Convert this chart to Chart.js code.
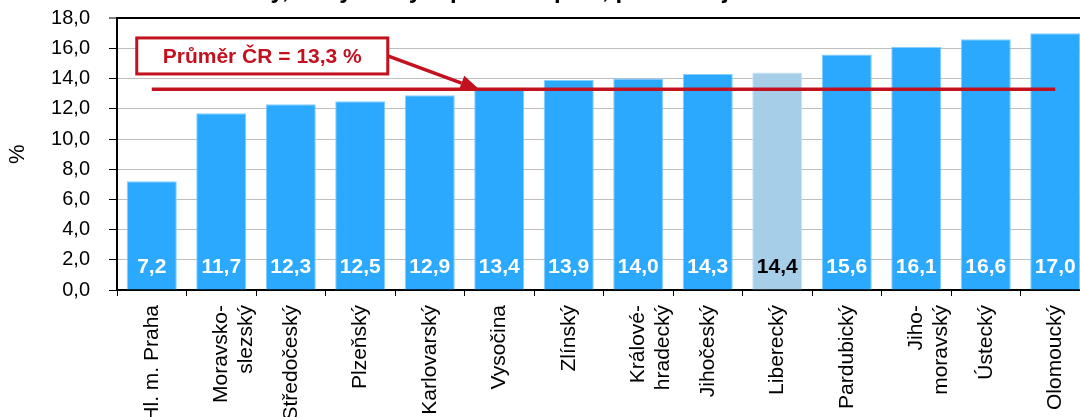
<!DOCTYPE html>
<html>
<head>
<meta charset="utf-8">
<script src="https://cdn.jsdelivr.net/npm/chart.js@4.4.1/dist/chart.umd.min.js"></script>
<style>
  html, body { margin: 0; padding: 0; overflow: hidden; background: #fff; width: 1080px; height: 417px; }
  #wrap { position: absolute; left: 0; top: -23px; width: 1090px; height: 475px; }
</style>
</head>
<body>
<div id="wrap"><canvas id="c"></canvas></div>
<script>
const titleText = 'Osoby, kterým chybí pocit bezpečí, podle krajů v roce 2019';
const categories = ['Hl. m. Praha', ['Moravsko-', 'slezský'], 'Středočeský', 'Plzeňský', 'Karlovarský', 'Vysočina', 'Zlínský', ['Králové-', 'hradecký'], 'Jihočeský', 'Liberecký', 'Pardubický', ['Jiho-', 'moravský'], 'Ústecký', 'Olomoucký'];
const values = [7.2, 11.7, 12.3, 12.5, 12.9, 13.4, 13.9, 14.0, 14.3, 14.4, 15.6, 16.1, 16.6, 17.0];
const highlighted = ['Liberecký'];
const average = 13.3;
const averageLabel = 'Průměr ČR = 13,3 %';
const yTicks = [0, 2, 4, 6, 8, 10, 12, 14, 16, 18];
const yAxisTitle = '%';

const FONT = "'Liberation Sans', Arial, sans-serif";
const BLUE = '#2AA9FE', BLUE_EDGE = '#86CFFF';
const LIGHT = '#A7CEE9', LIGHT_EDGE = '#C8E1F2';
const RED = '#C3121F';
const fmt = v => v.toFixed(1).replace('.', ',');
const isHi = i => highlighted.includes(categories[i]);

const barLabels = {
  id: 'barLabels',
  afterDatasetsDraw(chart) {
    const meta = chart.getDatasetMeta(1);
    const ys = chart.scales.y;
    const ctx = chart.ctx;
    ctx.save();
    ctx.font = 'bold 21px ' + FONT;
    ctx.textAlign = 'center';
    ctx.textBaseline = 'middle';
    meta.data.forEach((bar, i) => {
      ctx.fillStyle = isHi(i) ? '#000' : '#fff';
      ctx.fillText(fmt(values[i]), bar.x, ys.getPixelForValue(0) - 23);
    });
    ctx.restore();
  }
};

const callout = {
  id: 'callout',
  afterDraw(chart) {
    const xs = chart.scales.x, ys = chart.scales.y, ctx = chart.ctx;
    ctx.save();
    ctx.font = 'bold 21px ' + FONT;
    const tw = ctx.measureText(averageLabel).width;
    const left = xs.getPixelForValue(0) - 15;
    const cy = ys.getPixelForValue(15.5);
    const w = tw + 52, h = 36;
    ctx.fillStyle = '#fff';
    ctx.fillRect(left, cy - h / 2, w, h);
    ctx.strokeStyle = RED;
    ctx.lineWidth = 3;
    ctx.strokeRect(left, cy - h / 2, w, h);
    ctx.fillStyle = RED;
    ctx.textAlign = 'center';
    ctx.textBaseline = 'middle';
    ctx.fillText(averageLabel, left + w / 2, cy + 1);
    // arrow
    const sx = left + w, sy = cy;
    const tx = xs.getPixelForValue(5) - 19, ty = ys.getPixelForValue(average) + 1;
    const ang = Math.atan2(ty - sy, tx - sx);
    const L = 20, HW = 8;
    const bx = tx - L * Math.cos(ang), by = ty - L * Math.sin(ang);
    ctx.beginPath();
    ctx.moveTo(sx, sy);
    ctx.lineTo(bx, by);
    ctx.lineWidth = 3.5;
    ctx.stroke();
    ctx.beginPath();
    ctx.moveTo(tx, ty);
    ctx.lineTo(bx + HW * Math.sin(ang), by - HW * Math.cos(ang));
    ctx.lineTo(bx - HW * Math.sin(ang), by + HW * Math.cos(ang));
    ctx.closePath();
    ctx.fill();
    ctx.restore();
  }
};

new Chart(document.getElementById('c'), {
  data: {
    labels: categories,
    datasets: [
      {
        type: 'line',
        order: 0,
        data: categories.map(() => average),
        borderColor: RED,
        borderWidth: 3.5,
        pointRadius: 0,
        fill: false
      },
      {
        type: 'bar',
        order: 1,
        data: values,
        backgroundColor: values.map((v, i) => isHi(i) ? LIGHT : BLUE),
        borderColor: values.map((v, i) => isHi(i) ? LIGHT_EDGE : BLUE_EDGE),
        borderWidth: 1,
        barPercentage: 0.72,
        categoryPercentage: 1.0
      }
    ]
  },
  options: {
    responsive: true,
    maintainAspectRatio: false,
    animation: false,
    devicePixelRatio: 1,
    layout: { padding: 0 },
    plugins: {
      legend: { display: false },
      tooltip: { enabled: false },
      title: {
        display: true,
        text: titleText,
        color: '#000',
        font: { family: FONT, size: 24, weight: 'bold', lineHeight: 1.2 },
        padding: { top: 0, bottom: 12.4 }
      }
    },
    scales: {
      x: {
        type: 'category',
        offset: true,
        grid: { display: true, drawOnChartArea: false, offset: true, tickLength: 6, tickColor: '#000', tickWidth: 1 },
        border: { display: true, color: '#000', width: 2 },
        ticks: {
          autoSkip: false, maxRotation: 90, minRotation: 90, padding: 9,
          color: '#000', font: { family: FONT, size: 21, lineHeight: 1.2 }
        },
        afterFit(s) { s.height = 162; }
      },
      y: {
        min: 0, max: 18,
        afterBuildTicks(s) { s.ticks = yTicks.map(v => ({ value: v })); },
        grid: {
          color: c => (c.tick && c.tick.value === 18) ? '#000' : '#BEBEBE',
          lineWidth: c => (c.tick && c.tick.value === 18) ? 2 : 1,
          tickColor: '#000', tickLength: 8, tickWidth: 1
        },
        border: { display: true, color: '#000', width: 2 },
        ticks: {
          padding: 19, color: '#000',
          font: { family: FONT, size: 20 },
          callback: v => fmt(v)
        },
        title: {
          display: true, text: yAxisTitle, color: '#000',
          font: { family: FONT, size: 22, lineHeight: 1.2 },
          padding: { top: 5, bottom: 0 }
        },
        afterFit(s) { s.width = 117; }
      }
    }
  },
  plugins: [barLabels, callout]
});
</script>
</body>
</html>
